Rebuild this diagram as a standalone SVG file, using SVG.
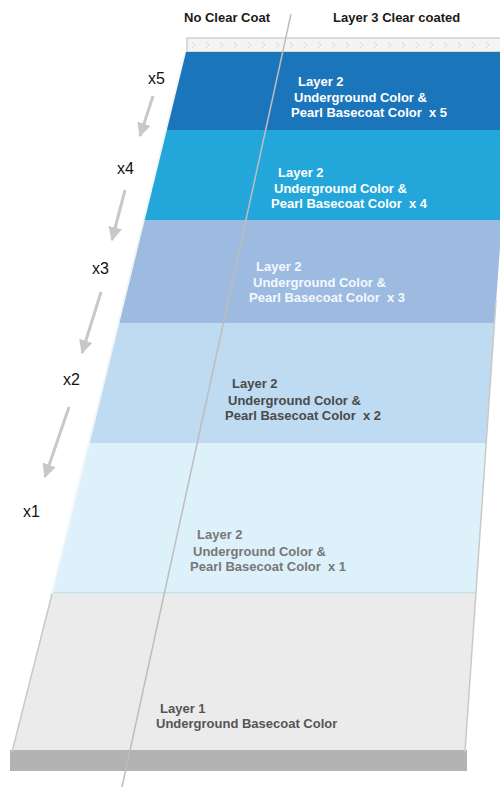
<svg xmlns="http://www.w3.org/2000/svg" width="500" height="787" viewBox="0 0 500 787">
  <defs>
    <style>
      .hdr { font-family: "Liberation Sans", Arial, sans-serif; font-weight: bold; font-size: 13px; fill: #1a1a1a; }
      .lbl { font-family: "Liberation Sans", Arial, sans-serif; font-weight: bold; font-size: 13px; }
      .mult { font-family: "Liberation Sans", Arial, sans-serif; font-size: 16px; fill: #111; }
      .edge { fill: none; stroke: #c9c9c9; stroke-width: 1.5; }
      .arrow { fill: none; stroke: #c8c8c8; stroke-width: 3; marker-end: url(#ah); }
    </style>
    <marker id="ah" viewBox="0 0 12 12" refX="11" refY="6" markerWidth="14" markerHeight="14" markerUnits="userSpaceOnUse" orient="auto">
      <path d="M0,0 L12,6 L0,12 Z" fill="#c8c8c8"/>
    </marker>
    <pattern id="chev" x="187" y="38" width="14" height="14" patternUnits="userSpaceOnUse">
      <rect width="14" height="14" fill="#f4f4f4"/>
      <path d="M5,4 L8,7 L5,10" fill="none" stroke="#dadada" stroke-width="1"/>
    </pattern>
  </defs>

  <g id="clear-coat">
    <rect x="187" y="38" width="316" height="14" fill="url(#chev)" stroke="#cfcfcf" stroke-width="1.5"/>
  </g>

  <g id="layer2-x5">
    <polygon points="185,52 513,52 508,130 166,130" fill="#1b75bb"/>
    <text class="lbl" fill="#ffffff"><tspan x="298" y="86">Layer 2</tspan><tspan x="294" y="102">Underground Color &amp;</tspan><tspan x="291" y="117" xml:space="preserve">Pearl Basecoat Color  x 5</tspan></text>
  </g>

  <g id="layer2-x4">
    <polygon points="166,130 508,130 502,220 144,220" fill="#23a6d9"/>
    <text class="lbl" fill="#ffffff"><tspan x="278" y="177">Layer 2</tspan><tspan x="274" y="193">Underground Color &amp;</tspan><tspan x="271" y="208" xml:space="preserve">Pearl Basecoat Color  x 4</tspan></text>
  </g>

  <g id="layer2-x3">
    <polygon points="144,220 502,220 494.5,323 118,323" fill="#9dbbe1"/>
    <text class="lbl" fill="#f4f8fd"><tspan x="256" y="271">Layer 2</tspan><tspan x="253" y="287">Underground Color &amp;</tspan><tspan x="249" y="302" xml:space="preserve">Pearl Basecoat Color  x 3</tspan></text>
  </g>

  <g id="layer2-x2">
    <polygon points="118,323 494.5,323 486,443 89,443" fill="#bedbf1"/>
    <text class="lbl" fill="#4a4a4a"><tspan x="232" y="388">Layer 2</tspan><tspan x="228" y="405">Underground Color &amp;</tspan><tspan x="225" y="420" xml:space="preserve">Pearl Basecoat Color  x 2</tspan></text>
  </g>

  <g id="layer2-x1">
    <polygon points="89,443 486,443 476,593 52,593" fill="#ddf1fb"/>
    <line x1="52" y1="593" x2="476" y2="593" stroke="#b5cfdc" stroke-width="1.2"/>
    <text class="lbl" fill="#777777"><tspan x="197" y="539">Layer 2</tspan><tspan x="193" y="556">Underground Color &amp;</tspan><tspan x="190" y="571" xml:space="preserve">Pearl Basecoat Color  x 1</tspan></text>
  </g>

  <g id="layer1">
    <polygon points="52,594 476,594 465,750 13,750" fill="#ebebeb"/>
    <rect x="10" y="750" width="457" height="21" fill="#b3b3b3"/>
    <text class="lbl" fill="#555555"><tspan x="160" y="713">Layer 1</tspan><tspan x="156" y="728">Underground Basecoat Color</tspan></text>
  </g>

  <g id="slab-edges">
    <line x1="185" y1="52" x2="51" y2="597" stroke="#f2f6f8" stroke-width="2"/>
    <line class="edge" x1="52" y1="594" x2="12" y2="752"/>
    <line class="edge" x1="496" y1="300" x2="465" y2="752"/>
  </g>

  <g id="headers">
    <text class="hdr" x="184" y="22">No Clear Coat</text>
    <text class="hdr" x="333" y="22">Layer 3 Clear coated</text>
  </g>

  <g id="divider">
    <line x1="291" y1="14" x2="122" y2="787" stroke="#bdbdbd" stroke-width="1.5"/>
  </g>

  <g id="multipliers">
    <text class="mult" x="148" y="84">x5</text>
    <text class="mult" x="117" y="174">x4</text>
    <text class="mult" x="92" y="274">x3</text>
    <text class="mult" x="63" y="385">x2</text>
    <text class="mult" x="23" y="517">x1</text>
  </g>

  <g id="connectors">
    <path class="arrow" d="M153,96 L140,136"/>
    <path class="arrow" d="M125,190 L112,240"/>
    <path class="arrow" d="M101,292 L82,353"/>
    <path class="arrow" d="M69,407 L45,477"/>
  </g>
</svg>
